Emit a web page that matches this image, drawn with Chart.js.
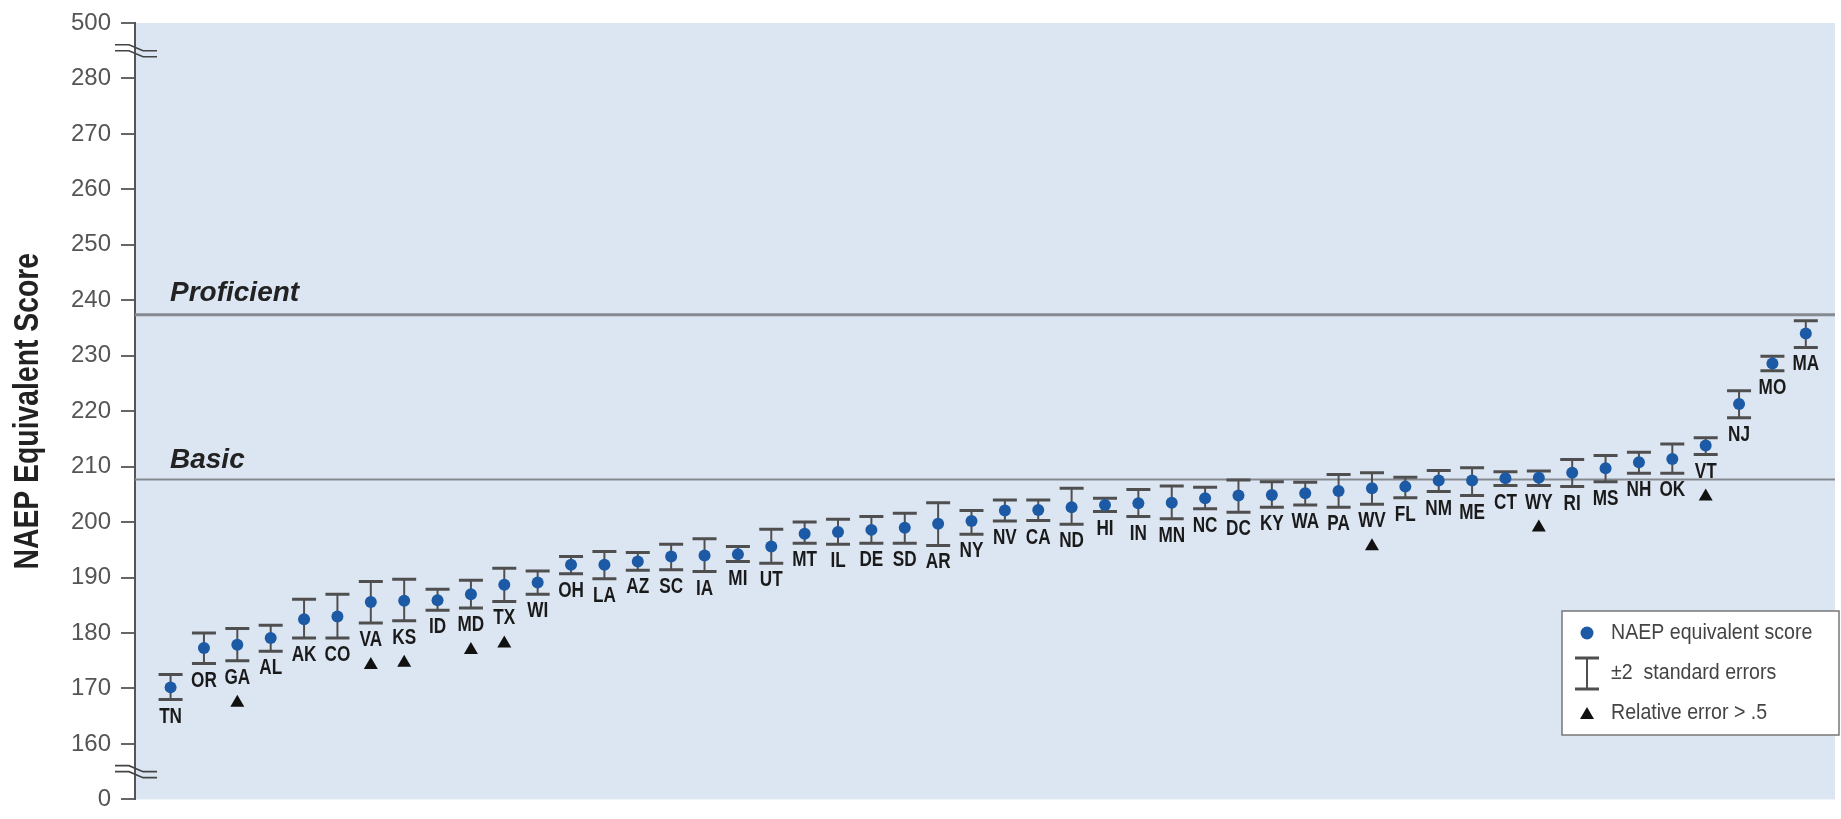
<!DOCTYPE html>
<html>
<head>
<meta charset="utf-8">
<script src="https://cdn.jsdelivr.net/npm/chart.js@4.4.1/dist/chart.umd.min.js"></script>
<style>
  html, body { margin: 0; padding: 0; background: #fff; }
  #wrap { width: 1841px; height: 819px; position: relative; }
</style>
</head>
<body>
<div id="wrap"><canvas id="grafica"></canvas></div>
<script>
// datos (puntaje NAEP equivalente, +-2 errores estandar)
const states = ['TN','OR','GA','AL','AK','CO','VA','KS','ID','MD','TX','WI','OH','LA','AZ','SC','IA','MI','UT','MT',
  'IL','DE','SD','AR','NY','NV','CA','ND','HI','IN','MN','NC','DC','KY','WA','PA','WV','FL','NM','ME',
  'CT','WY','RI','MS','NH','OK','VT','NJ','MO','MA'];
const scores = [170.2,177.3,177.9,179.1,182.5,183.0,185.6,185.8,185.9,187.0,188.7,189.1,192.3,192.3,192.9,193.8,194.0,194.2,195.6,197.9,
  198.2,198.6,199.0,199.7,200.2,202.1,202.2,202.7,203.1,203.4,203.5,204.3,204.8,204.9,205.2,205.6,206.1,206.4,207.5,207.5,
  207.9,208.0,208.9,209.7,210.8,211.4,213.8,221.3,228.6,234.0];
const upperSE = [172.5,180.0,180.8,181.4,186.1,187.0,189.3,189.7,187.9,189.5,191.7,191.2,193.8,194.7,194.5,196.0,197.0,195.6,198.7,200.0,
  200.5,201.0,201.6,203.5,202.1,204.0,204.0,206.1,204.3,205.9,206.5,206.3,207.6,207.3,207.2,208.6,208.9,208.1,209.3,209.8,
  209.1,209.2,211.3,212.0,212.6,214.1,215.2,223.7,229.9,236.3];
const lowerSE = [168.0,174.5,175.0,176.7,179.1,179.1,181.8,182.2,184.1,184.5,185.7,187.0,190.7,189.8,191.3,191.4,191.1,192.9,192.6,196.2,
  196.0,196.2,196.2,195.8,197.8,200.2,200.3,199.6,201.9,201.0,200.6,202.4,201.8,202.7,203.1,202.7,203.2,204.4,205.5,204.8,
  206.6,206.6,206.4,207.3,208.8,208.8,212.2,218.8,227.3,231.5];
const relErrorFlag = ['GA','VA','KS','MD','TX','WV','WY','VT'];   // error relativo > .5

const cutLevels = [207.7, 237.4];
const cutNames = ['Basic', 'Proficient'];

// eje cortado: 150 se rotula "0" y 290 se rotula "500"
const axisMin = 150, axisMax = 290;
const brokenTicks = { 150: '0', 290: '500' };
const breakAt = [155, 285];

const legendItems = ['NAEP equivalent score', '\u00B12  standard errors', 'Relative error > .5'];

const COLOR_DOT = '#1d5aa5';
const COLOR_BAR = '#4f4f4f';

function Texto(ctx, txt, x, y, font, color, sx, align) {
  ctx.save();
  ctx.translate(x, y);
  ctx.scale(sx, 1);
  ctx.font = font;
  ctx.fillStyle = color;
  ctx.textAlign = align || 'left';
  ctx.textBaseline = 'middle';
  ctx.fillText(txt, 0, 0);
  ctx.restore();
}

function Triangulo(ctx, x, y) {
  ctx.beginPath();
  ctx.moveTo(x, y - 6);
  ctx.lineTo(x + 7, y + 6);
  ctx.lineTo(x - 7, y + 6);
  ctx.closePath();
  ctx.fillStyle = '#111';
  ctx.fill();
}

function BarraError(ctx, x, yTop, yBot) {
  ctx.strokeStyle = COLOR_BAR;
  ctx.lineWidth = 2;
  ctx.beginPath();
  ctx.moveTo(x, yTop); ctx.lineTo(x, yBot);
  ctx.stroke();
  ctx.lineWidth = 3;
  ctx.beginPath();
  ctx.moveTo(x - 12, yTop); ctx.lineTo(x + 12, yTop);
  ctx.moveTo(x - 12, yBot); ctx.lineTo(x + 12, yBot);
  ctx.stroke();
}

const fondo = {
  id: 'fondo',
  beforeDraw(chart) {
    const { ctx, chartArea: a } = chart;
    ctx.save();
    ctx.fillStyle = '#dce6f2';
    ctx.fillRect(a.left, a.top, a.right - a.left, a.bottom - a.top);
    ctx.restore();
  }
};

const niveles = {
  id: 'niveles',
  beforeDatasetsDraw(chart) {
    const { ctx, chartArea: a, scales } = chart;
    ctx.save();
    cutLevels.forEach((v, k) => {
      const py = scales.y.getPixelForValue(v);
      ctx.strokeStyle = '#858a91';
      ctx.lineWidth = k === 1 ? 3 : 2;
      ctx.beginPath();
      ctx.moveTo(a.left, py); ctx.lineTo(a.right, py);
      ctx.stroke();
      ctx.font = 'italic bold 28px "Liberation Sans", Arial, sans-serif';
      ctx.fillStyle = '#222';
      ctx.textBaseline = 'alphabetic';
      ctx.fillText(cutNames[k], a.left + 35, py - (k === 1 ? 14 : 11));
    });

    // barras de +-2 errores estandar
    states.forEach((s, i) => {
      const px = scales.x.getPixelForValue(i);
      BarraError(ctx, px, scales.y.getPixelForValue(upperSE[i]), scales.y.getPixelForValue(lowerSE[i]));
    });
    ctx.restore();
  }
};

const etiquetas = {
  id: 'etiquetas',
  afterDatasetsDraw(chart) {
    const { ctx, scales } = chart;
    ctx.save();
    states.forEach((s, i) => {
      const px = scales.x.getPixelForValue(i);
      const pl = scales.y.getPixelForValue(lowerSE[i]);
      Texto(ctx, s, px, pl + 17, 'bold 22px "Liberation Sans", Arial, sans-serif', '#1a1a1a', 0.78, 'center');
      if (relErrorFlag.indexOf(s) >= 0) Triangulo(ctx, px, pl + 40);
    });
    ctx.restore();
  },
  afterDraw(chart) {
    const { ctx, chartArea: a, scales } = chart;
    ctx.save();

    // titulo del eje y
    ctx.save();
    ctx.translate(28, (a.top + a.bottom) / 2);
    ctx.rotate(-Math.PI / 2);
    Texto(ctx, 'NAEP Equivalent Score', 0, 0, 'bold 35px "Liberation Sans", Arial, sans-serif', '#222', 0.81, 'center');
    ctx.restore();

    // marcas de corte del eje
    ctx.strokeStyle = '#444';
    ctx.lineWidth = 1.6;
    breakAt.forEach(v => {
      const py = scales.y.getPixelForValue(v);
      [-3, 3].forEach(off => {
        ctx.beginPath();
        ctx.moveTo(a.left - 20, py + off - 3);
        ctx.lineTo(a.left - 6, py + off - 3);
        ctx.lineTo(a.left + 8, py + off + 3);
        ctx.lineTo(a.left + 22, py + off + 3);
        ctx.stroke();
      });
    });

    // leyenda
    const bx = 1562, by = 611, bw = 277, bh = 124;
    ctx.fillStyle = '#fff';
    ctx.fillRect(bx, by, bw, bh);
    ctx.strokeStyle = '#777';
    ctx.lineWidth = 1.5;
    ctx.strokeRect(bx, by, bw, bh);
    const sx = bx + 25, tx = bx + 49;
    ctx.fillStyle = COLOR_DOT;
    ctx.beginPath();
    ctx.arc(sx, by + 22, 6.5, 0, Math.PI * 2);
    ctx.fill();
    BarraError(ctx, sx, by + 47, by + 78);
    Triangulo(ctx, sx, by + 102);
    legendItems.forEach((t, k) => {
      Texto(ctx, t, tx, by + 22 + k * 40, '22px "Liberation Sans", Arial, sans-serif', '#444', 0.89, 'left');
    });
    ctx.restore();
  }
};

const ctx = document.getElementById('grafica').getContext('2d');

new Chart(ctx, {
  type: 'scatter',
  data: {
    datasets: [{
      label: 'NAEP equivalent score',
      data: states.map((s, i) => ({ x: i, y: scores[i] })),
      pointRadius: 6,
      pointHoverRadius: 6,
      backgroundColor: COLOR_DOT,
      borderWidth: 0
    }]
  },
  options: {
    responsive: true,
    maintainAspectRatio: false,
    animation: false,
    devicePixelRatio: 1,
    layout: { padding: { top: 23, bottom: 10, left: 0, right: 0 } },
    plugins: {
      legend: { display: false },
      tooltip: { enabled: false }
    },
    scales: {
      x: {
        type: 'linear',
        display: false,
        min: -1.066,
        max: 49.875
      },
      y: {
        min: axisMin,
        max: axisMax,
        afterFit: (scale) => { scale.width = 135; },
        border: { display: true, color: '#555', width: 2 },
        grid: { drawOnChartArea: false, drawTicks: true, tickLength: 14, color: '#666', lineWidth: 2 },
        ticks: {
          stepSize: 10,
          padding: 10,
          color: '#555',
          font: { family: '"Liberation Sans", Arial, sans-serif', size: 24, lineHeight: 0.8 },
          callback: (v) => brokenTicks[v] !== undefined ? brokenTicks[v] : v
        }
      }
    }
  },
  plugins: [fondo, niveles, etiquetas]
});
</script>
</body>
</html>
